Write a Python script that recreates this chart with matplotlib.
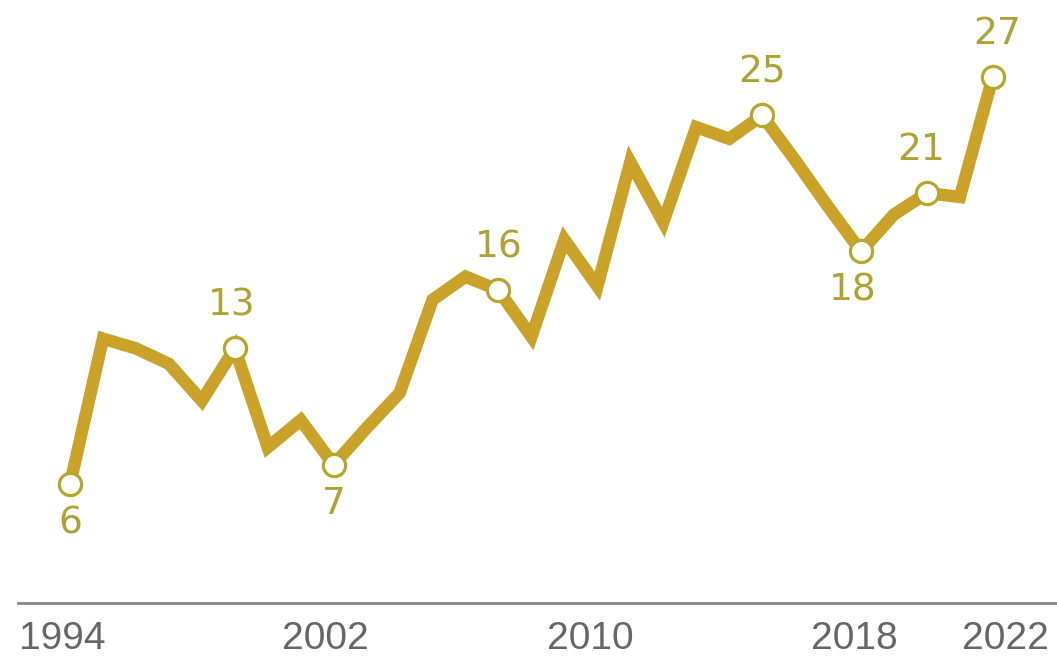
import matplotlib
matplotlib.use('Agg')
import matplotlib.pyplot as plt
import matplotlib.transforms as mtransforms
import numpy as np

# yearly values, 1994-2022
years = list(range(1994, 2023))
values = [6, 13.5, 13.0, 12.2, 10.3, 13, 7.9, 9.3, 7, 8.9,
          10.7, 15.5, 16.7, 16, 13.6, 18.6, 16.2, 22.6, 19.5, 24.4,
          23.8, 25, 22.7, 20.3, 18, 19.9, 21, 20.8, 27]

# years that get a circle marker and a value label
marked_years = [1994, 1999, 2002, 2007, 2015, 2018, 2020, 2022]
labels_below = [1994, 2002, 2018]

tick_years = [1994, 2002, 2010, 2018, 2022]
tick_labels = ['1994', '2002', '2010', '2018', '2022']

line_color = '#C9A227'
mark_color = '#B5A72C'
text_color = '#ADA232'

fig = plt.figure(figsize=(10.57, 6.57), dpi=100)
ax = fig.add_axes([0, 54 / 657, 1, 603 / 657])

ax.plot(years, values, color=line_color, lw=9, solid_joinstyle='miter',
        solid_capstyle='butt', zorder=2)

yr = np.array(years)
val = np.array(values)
for y in marked_years:
    v = val[yr == y][0]
    ax.plot(y, v, 'o', ms=16, mfc='white', mec=mark_color, mew=2.3, zorder=3)
    below = y in labels_below
    dy = -28 if below else 31
    dx = {2018: -6, 2020: -4, 2022: 3, 1999: -2}.get(y, 0)
    ax.annotate(f'{v:g}', (y, v), xytext=(dx, dy), textcoords='offset points',
                ha='center', va='center', fontsize=27, color=text_color,
                family=['DejaVu Sans'])

ax.set_xlim(1991.876, 2023.946)
ax.set_ylim(-0.12, 30.95)

for s in ['top', 'left', 'right']:
    ax.spines[s].set_visible(False)
ax.spines['bottom'].set_color('#808080')
ax.spines['bottom'].set_linewidth(1.9)
ax.spines['bottom'].set_bounds(1992.42, 2023.946)

ax.set_yticks([])
ax.set_xticks(tick_years)
ax.set_xticklabels(tick_labels, fontsize=28, color='#666666',
                   family=['Liberation Sans', 'DejaVu Sans'])
ax.tick_params(axis='x', length=0, pad=13)

# nudge the year labels sideways
shifts = [-8, -8, -7, -7, 13]
for lab, sx in zip(ax.get_xticklabels(), shifts):
    off = mtransforms.ScaledTranslation(sx / 100, 0, fig.dpi_scale_trans)
    lab.set_transform(lab.get_transform() + off)

fig.savefig('out.png', dpi=100, facecolor='white')
